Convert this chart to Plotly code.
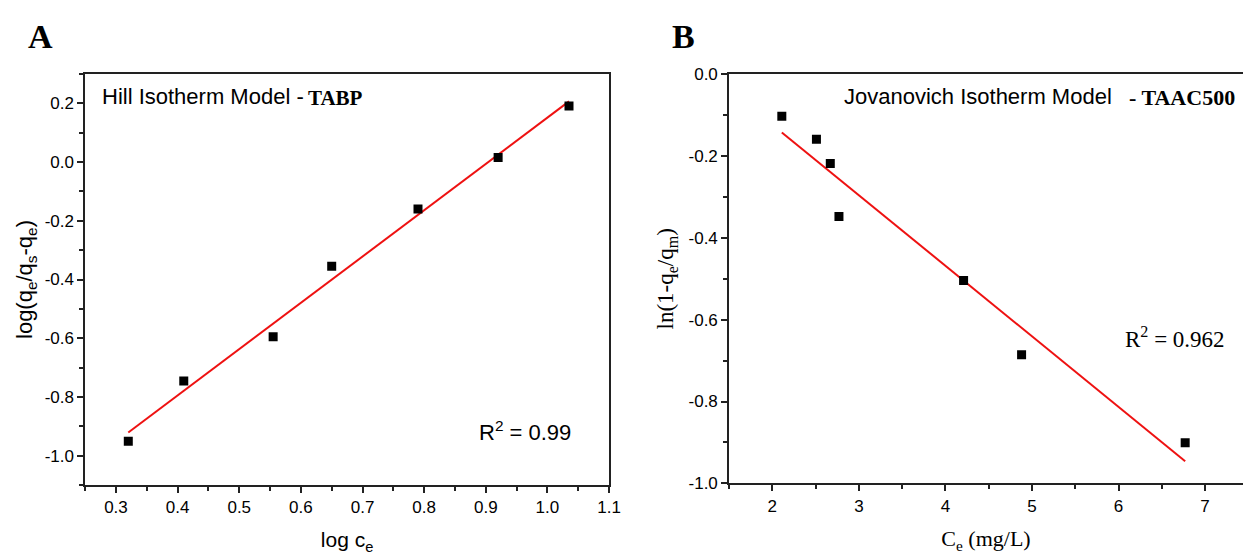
import numpy as np
import plotly.graph_objects as go

# Panel A: Hill isotherm (TABP)
log_ce = [0.32, 0.41, 0.555, 0.65, 0.79, 0.92, 1.035]
log_ratio = [-0.95, -0.745, -0.595, -0.355, -0.16, 0.015, 0.19]

# Panel B: Jovanovich isotherm (TAAC500)
ce_mgL = [2.11, 2.51, 2.67, 2.77, 4.21, 4.88, 6.77]
ln_term = [-0.103, -0.159, -0.218, -0.348, -0.504, -0.686, -0.901]

# Tick labels
a_xticks = [0.3, 0.4, 0.5, 0.6, 0.7, 0.8, 0.9, 1.0, 1.1]
a_xlabels = ["0.3", "0.4", "0.5", "0.6", "0.7", "0.8", "0.9", "1.0", "1.1"]
a_yticks = [0.2, 0.0, -0.2, -0.4, -0.6, -0.8, -1.0]
a_ylabels = ["0.2", "0.0", "-0.2", "-0.4", "-0.6", "-0.8", "-1.0"]
b_xticks = [2, 3, 4, 5, 6, 7]
b_xlabels = ["2", "3", "4", "5", "6", "7"]
b_yticks = [0.0, -0.2, -0.4, -0.6, -0.8, -1.0]
b_ylabels = ["0.0", "-0.2", "-0.4", "-0.6", "-0.8", "-1.0"]

SANS = "Liberation Sans, Arial, sans-serif"
SERIF = "Liberation Serif, Times New Roman, serif"

# Least-squares fit lines
ka, ba = np.polyfit(log_ce, log_ratio, 1)
kb, bb = np.polyfit(ce_mgL, ln_term, 1)
fa_x = [min(log_ce), max(log_ce)]
fa_y = [ka * v + ba for v in fa_x]
fb_x = [min(ce_mgL), max(ce_mgL)]
fb_y = [kb * v + bb for v in fb_x]

RED = "#ee1111"

fig = go.Figure()
fig.add_trace(go.Scatter(x=fa_x, y=fa_y, mode="lines", line=dict(color=RED, width=2),
                         xaxis="x", yaxis="y", showlegend=False))
fig.add_trace(go.Scatter(x=log_ce, y=log_ratio, mode="markers",
                         marker=dict(symbol="square", size=9, color="black"),
                         xaxis="x", yaxis="y", showlegend=False))
fig.add_trace(go.Scatter(x=fb_x, y=fb_y, mode="lines", line=dict(color=RED, width=2),
                         xaxis="x2", yaxis="y2", showlegend=False))
fig.add_trace(go.Scatter(x=ce_mgL, y=ln_term, mode="markers",
                         marker=dict(symbol="square", size=9, color="black"),
                         xaxis="x2", yaxis="y2", showlegend=False))

axis_common = dict(showgrid=False, zeroline=False, showline=True, linecolor="#222",
                   linewidth=1.6, ticks="outside", ticklen=6, tickwidth=1.5,
                   tickcolor="#222", tickmode="array",
                   tickfont=dict(family=SANS, size=17, color="black"))
minor_common = dict(ticks="outside", ticklen=4, tickwidth=1.5, tickcolor="#222")

fig.update_layout(
    width=1255, height=560,
    margin=dict(l=0, r=0, t=0, b=0),
    paper_bgcolor="white", plot_bgcolor="white",
    xaxis=dict(axis_common, domain=[0.0685, 0.490], range=[0.25, 1.1],
               tickvals=a_xticks, ticktext=a_xlabels, mirror=True,
               minor=dict(minor_common, tick0=0.25, dtick=0.1),
               title=dict(text="log c<sub>e</sub>", standoff=16,
                          font=dict(family=SANS, size=21, color="black")),
               anchor="y"),
    yaxis=dict(axis_common, domain=[0.1196, 0.8804], range=[-1.1, 0.3],
               tickvals=a_yticks, ticktext=a_ylabels, mirror=True,
               minor=dict(minor_common, tick0=0.1, dtick=0.2),
               title=dict(text="log(q<sub>e</sub>/q<sub>s</sub>-q<sub>e</sub>)", standoff=6,
                          font=dict(family=SANS, size=22, color="black")),
               anchor="x"),
    xaxis2=dict(axis_common, domain=[0.5865, 1.0], range=[1.5, 7.438],
                tickvals=b_xticks, ticktext=b_xlabels, mirror=True,
                minor=dict(minor_common, tick0=1.5, dtick=1),
                title=dict(text="C<sub>e</sub> (mg/L)", standoff=16,
                           font=dict(family=SERIF, size=22, color="black")),
                anchor="y2"),
    yaxis2=dict(axis_common, domain=[0.1232, 0.8795], range=[-1.0, 0.0],
                tickvals=b_yticks, ticktext=b_ylabels, mirror=False,
                minor=dict(minor_common, tick0=-0.1, dtick=0.2),
                title=dict(text="ln(1-q<sub>e</sub>/q<sub>m</sub>)", standoff=8,
                           font=dict(family=SERIF, size=23, color="black")),
                anchor="x2"),
)

annotations = [
    dict(text="<b>A</b>", x=26, y=28, font=dict(family=SERIF, size=34)),
    dict(text="<b>B</b>", x=676, y=28, font=dict(family=SERIF, size=34)),
    dict(text="Hill Isotherm Model -", x=101, y=91, font=dict(family=SANS, size=22)),
    dict(text="<b>TABP</b>", x=309, y=92, font=dict(family=SERIF, size=21)),
    dict(text="R<sup>2</sup> = 0.99", x=482, y=437, font=dict(family=SANS, size=22)),
    dict(text="Jovanovich Isotherm Model", x=850, y=91, font=dict(family=SANS, size=22)),
    dict(text="<b>- TAAC500</b>", x=1138, y=92, font=dict(family=SERIF, size=22)),
    dict(text="R<sup>2</sup> = 0.962", x=1134, y=340, font=dict(family=SERIF, size=23)),
]
for a in annotations:
    fig.add_annotation(
        text=a["text"], xref="paper", yref="paper",
        x=a["x"] / 1255, y=1 - a["y"] / 560,
        xanchor="left", yanchor="middle", showarrow=False,
        font=dict(a["font"], color="black"),
    )

fig.write_html("out.html")
